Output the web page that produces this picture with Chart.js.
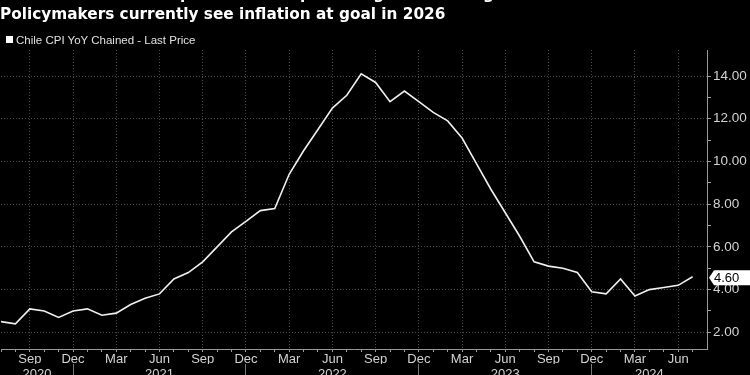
<!DOCTYPE html>
<html>
<head>
<meta charset="utf-8">
<script src="https://cdn.jsdelivr.net/npm/chart.js@4.4.1/dist/chart.umd.min.js"></script>
<style>
  html, body { margin: 0; padding: 0; background: #000; width: 750px; height: 375px; overflow: hidden; }
  #wrap { position: absolute; left: 0; top: 0; width: 750px; height: 390px; }
  .title { position: absolute; left: 0; color: #fff; font-family: "DejaVu Sans", sans-serif; font-weight: bold; font-size: 15.3px; white-space: nowrap; line-height: 18px; z-index: 2; }
  #t1 { top: -15px; }
  #t2 { top: 5px; }
  #legend { position: absolute; left: 6px; top: 33px; color: #e0e0e0; font-family: "Liberation Sans", sans-serif; font-size: 11.5px; line-height: 14px; white-space: nowrap; z-index: 2; }
  #legend .sw { display: inline-block; width: 7px; height: 7px; background: #fff; margin-right: 3px; vertical-align: 1px; }
</style>
</head>
<body>
<div class="title" id="t1">Chile's Inflation Is Expected to Keep Slowing Toward Target</div>
<div class="title" id="t2">Policymakers currently see inflation at goal in 2026</div>
<div id="legend"><span class="sw"></span><span id="legendText"></span></div>
<div id="wrap"><canvas id="c"></canvas></div>
<script>
// ---- data ----
const months = [
  '2020-07','2020-08','2020-09','2020-10','2020-11','2020-12',
  '2021-01','2021-02','2021-03','2021-04','2021-05','2021-06','2021-07','2021-08','2021-09','2021-10','2021-11','2021-12',
  '2022-01','2022-02','2022-03','2022-04','2022-05','2022-06','2022-07','2022-08','2022-09','2022-10','2022-11','2022-12',
  '2023-01','2023-02','2023-03','2023-04','2023-05','2023-06','2023-07','2023-08','2023-09','2023-10','2023-11','2023-12',
  '2024-01','2024-02','2024-03','2024-04','2024-05','2024-06','2024-07'
];
const cpiYoY = [
  2.5, 2.4, 3.1, 3.0, 2.7, 3.0,
  3.1, 2.8, 2.9, 3.3, 3.6, 3.8, 4.5, 4.8, 5.3, 6.0, 6.7, 7.2,
  7.7, 7.8, 9.4, 10.5, 11.5, 12.5, 13.1, 14.1, 13.7, 12.8, 13.3, 12.8,
  12.3, 11.9, 11.1, 9.9, 8.7, 7.6, 6.5, 5.3, 5.1, 5.0, 4.8, 3.9,
  3.8, 4.5, 3.7, 4.0, 4.1, 4.2, 4.6
];
const seriesName = 'Chile CPI YoY Chained - Last Price';
const monthAbbr = ['Jan','Feb','Mar','Apr','May','Jun','Jul','Aug','Sep','Oct','Nov','Dec'];
const labeledMonths = ['Mar','Jun','Sep','Dec'];
const yTickValues = [2, 4, 6, 8, 10, 12, 14];
const yMinorStep = 1;
const yRange = [1.22, 15.22];

// ---- derived ----
document.getElementById('legendText').textContent = seriesName;
const monthName = i => monthAbbr[parseInt(months[i].slice(5, 7), 10) - 1];
const yearOf = i => months[i].slice(0, 4);
const xMin = 0, xMax = months.length;
const decIdx = months.map((m, i) => i).filter(i => monthName(i) === 'Dec');
const years = [...new Set(months.map(m => m.slice(0, 4)))];
const yearCenters = years.map(y => {
  const prevDec = decIdx.find(i => yearOf(i) === String(+y - 1));
  const thisDec = decIdx.find(i => yearOf(i) === y);
  const a = prevDec === undefined ? xMin : prevDec;
  const b = thisDec === undefined ? xMax : thisDec;
  return { value: (a + b) / 2, label: y };
});
const isLabeledMonth = v => Number.isInteger(v) && v >= 0 && v < months.length && labeledMonths.includes(monthName(v));

const gridCol = '#4a4a4a';
const axisCol = '#9a9a9a';
const textCol = '#d2d2d2';

Chart.defaults.font.family = '"Liberation Sans", Arial, sans-serif';
Chart.defaults.font.size = 13;

const lastPricePlugin = {
  id: 'lastPrice',
  afterDraw(chart) {
    const ys = chart.scales.y;
    const ds = chart.data.datasets[0].data;
    const v = ds[ds.length - 1].y;
    const y = ys.getPixelForValue(v) + 1;
    const x0 = ys.left + 2;
    const ctx = chart.ctx;
    ctx.save();
    ctx.fillStyle = '#ffffff';
    ctx.beginPath();
    ctx.moveTo(x0, y);
    ctx.lineTo(x0 + 5, y - 7.5);
    ctx.lineTo(chart.width, y - 7.5);
    ctx.lineTo(chart.width, y + 7.5);
    ctx.lineTo(x0 + 5, y + 7.5);
    ctx.closePath();
    ctx.fill();
    ctx.fillStyle = '#000';
    ctx.font = '13px "Liberation Sans", Arial, sans-serif';
    ctx.textBaseline = 'middle';
    ctx.textAlign = 'left';
    ctx.fillText(v.toFixed(2), x0 + 5, y + 0.5);
    ctx.restore();
  }
};

new Chart(document.getElementById('c'), {
  type: 'line',
  data: {
    datasets: [{
      label: seriesName,
      data: cpiYoY.map((v, i) => ({ x: i, y: v })),
      borderColor: '#f0f0f0',
      borderWidth: 1.6,
      pointRadius: 0,
      tension: 0
    }]
  },
  options: {
    responsive: true,
    maintainAspectRatio: false,
    devicePixelRatio: 1,
    animation: false,
    layout: { padding: { top: 50, left: 0, right: 0, bottom: 0 } },
    plugins: { legend: { display: false }, tooltip: { enabled: false } },
    scales: {
      x: {
        type: 'linear', position: 'bottom', min: xMin, max: xMax,
        afterBuildTicks: s => { s.ticks = months.map((m, i) => ({ value: i })); },
        afterFit: s => { s.height = 15; },
        ticks: {
          autoSkip: false, maxRotation: 0, color: textCol, padding: 1,
          font: { size: 13, lineHeight: 1 },
          callback: v => isLabeledMonth(v) ? monthName(v) : ''
        },
        grid: {
          color: c => (c.tick && isLabeledMonth(c.tick.value)) ? gridCol : 'rgba(0,0,0,0)',
          tickColor: axisCol, tickLength: 3, lineWidth: 1
        },
        border: { color: axisCol, dash: [1, 2] }
      },
      x2: {
        type: 'linear', position: 'bottom', min: xMin, max: xMax,
        afterBuildTicks: s => {
          s.ticks = decIdx.map(i => ({ value: i })).concat(yearCenters.map(y => ({ value: y.value })));
          s.ticks.sort((a, b) => a.value - b.value);
        },
        afterFit: s => { s.height = 26; },
        ticks: {
          autoSkip: false, maxRotation: 0, color: textCol, padding: -8,
          font: { size: 13, lineHeight: 1 },
          callback: v => { const y = yearCenters.find(o => o.value === v); return y ? y.label : ''; }
        },
        grid: {
          drawOnChartArea: false,
          tickColor: c => (c.tick && decIdx.includes(c.tick.value)) ? '#777' : 'rgba(0,0,0,0)',
          tickLength: 12
        },
        border: { display: false }
      },
      y: {
        type: 'linear', position: 'right', min: yRange[0], max: yRange[1],
        afterBuildTicks: s => {
          const t = [];
          for (let v = yTickValues[0]; v <= yTickValues[yTickValues.length - 1]; v += yMinorStep) t.push({ value: v });
          s.ticks = t;
        },
        afterFit: s => { s.width = 43; },
        ticks: {
          autoSkip: false, color: textCol, padding: 2,
          font: { size: 13.5 },
          callback: v => yTickValues.includes(v) ? v.toFixed(2) : ''
        },
        grid: {
          color: c => (c.tick && yTickValues.includes(c.tick.value)) ? gridCol : 'rgba(0,0,0,0)',
          tickColor: axisCol, tickLength: 4
        },
        border: { color: axisCol, dash: [1, 2] }
      }
    }
  },
  plugins: [lastPricePlugin]
});
</script>
</body>
</html>
